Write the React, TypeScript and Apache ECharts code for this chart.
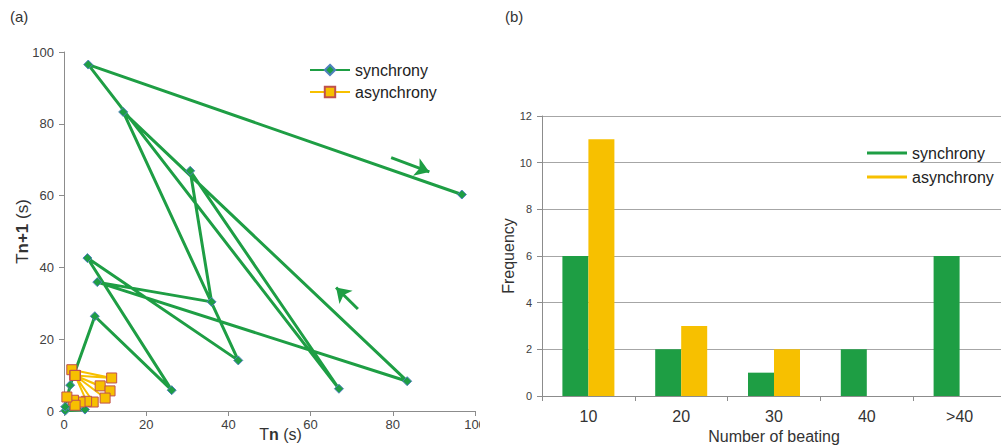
import React, { useEffect, useRef } from "react";
import * as echarts from "echarts";

const GREEN = "#1E9E44";
const YELLOW = "#F7C000";
const FONT = "'Liberation Sans', Arial, sans-serif";

// Panel (a): return map Tn vs Tn+1 (s)
const syncPoints: [number, number][] = [
  [0.3, 0.1], [5.1, 0.4], [0.3, 1.2], [1.5, 7.2], [7.5, 26.4], [26.2, 5.8],
  [5.7, 42.6], [42.4, 14.1], [14.4, 83.3], [83.5, 8.3], [8.1, 35.9],
  [35.9, 30.4], [30.7, 66.9], [66.9, 6.2], [5.9, 96.5], [96.8, 60.3],
];
const asyncPoints: [number, number][] = [
  [1.9, 11.5], [11.6, 9.2], [2.7, 9.9], [8.8, 7.0], [2.7, 9.9], [11.2, 5.6],
  [2.7, 9.9], [10.0, 3.6], [2.7, 9.9], [7.1, 2.5], [2.7, 9.9], [5.5, 2.7],
  [3.9, 2.5], [2.3, 3.0], [2.7, 1.6], [0.7, 3.9],
];
const arrow1: [number, number][] = [[79.6, 70.6], [88.9, 66.6]];
const arrow2: [number, number][] = [[71.5, 28.4], [66.2, 34.4]];
const axisTicksA = { min: 0, max: 100, interval: 20 };

// Panel (b): histogram
const beatCategories = ["10", "20", "30", "40", ">40"];
const syncFreq = [6, 2, 1, 2, 6];
const asyncFreq = [11, 3, 2, 0, 0];
const axisTicksB = { min: 0, max: 12, interval: 2 };

const axisColor = "#8C8C8C";
const labelColor = "#404040";

function optionA(): any {
  return {
    animation: false,
    textStyle: { fontFamily: FONT },
    graphic: [
      { type: "text", left: 10, top: 9, style: { text: "(a)", fontSize: 15, fill: "#333", fontFamily: FONT } },
    ],
    legend: {
      orient: "vertical",
      left: 304,
      top: 57,
      itemWidth: 40,
      itemHeight: 13,
      itemGap: 6,
      textStyle: { fontSize: 16, color: "#222", fontFamily: FONT },
      data: ["synchrony", "asynchrony"],
    },
    grid: { left: 64, top: 52, width: 411, height: 359, outerBoundsMode: "none", containLabel: false },
    xAxis: {
      type: "value",
      ...axisTicksA,
      name: "T{b|n} (s)",
      nameLocation: "middle",
      nameGap: 15,
      nameMoveOverlap: false,
      nameTextStyle: { fontSize: 16, color: "#333", fontFamily: FONT, padding: [0, 0, 0, 22], rich: { b: { fontSize: 16, fontWeight: "bold", color: "#333", fontFamily: FONT } } },
      axisLine: { show: true, lineStyle: { color: axisColor } },
      axisTick: { show: true, length: 5, lineStyle: { color: axisColor } },
      splitLine: { show: false },
      axisLabel: { fontSize: 13, color: labelColor, margin: 7, fontFamily: FONT },
    },
    yAxis: {
      type: "value",
      ...axisTicksA,
      name: "T{b|n+1} (s)",
      nameLocation: "middle",
      nameGap: 33,
      nameMoveOverlap: false,
      nameTextStyle: { fontSize: 17, color: "#333", fontFamily: FONT, rich: { b: { fontSize: 17, fontWeight: "bold", color: "#333", fontFamily: FONT } } },
      axisLine: { show: true, lineStyle: { color: axisColor } },
      axisTick: { show: true, length: 5, lineStyle: { color: axisColor } },
      splitLine: { show: false },
      axisLabel: { fontSize: 13, color: labelColor, margin: 10, fontFamily: FONT },
    },
    series: [
      {
        name: "synchrony",
        type: "line",
        data: syncPoints,
        symbol: "diamond",
        symbolSize: 9,
        itemStyle: { color: GREEN, borderColor: "#4F81BD", borderWidth: 1 },
        lineStyle: { color: GREEN, width: 3 },
        markLine: {
          silent: true,
          symbol: ["none", "arrow"],
          symbolSize: 14,
          label: { show: false },
          lineStyle: { color: GREEN, width: 3, type: "solid" },
          data: [
            [{ coord: arrow1[0] }, { coord: arrow1[1] }],
            [{ coord: arrow2[0] }, { coord: arrow2[1] }],
          ],
        },
      },
      {
        name: "asynchrony",
        type: "line",
        data: asyncPoints,
        symbol: "rect",
        symbolSize: 10,
        itemStyle: { color: YELLOW, borderColor: "#C0504D", borderWidth: 1 },
        lineStyle: { color: YELLOW, width: 2 },
      },
    ],
  };
}

function optionB(): any {
  return {
    animation: false,
    textStyle: { fontFamily: FONT },
    graphic: [
      { type: "text", left: 25, top: 9, style: { text: "(b)", fontSize: 15, fill: "#333", fontFamily: FONT } },
    ],
    legend: {
      orient: "vertical",
      left: 382,
      top: 140,
      itemWidth: 40,
      itemHeight: 3,
      itemGap: 8,
      icon: "rect",
      textStyle: { fontSize: 16, color: "#222", fontFamily: FONT },
      data: ["synchrony", "asynchrony"],
    },
    grid: { left: 62, top: 116, width: 464, height: 280, outerBoundsMode: "none", containLabel: false },
    xAxis: {
      type: "category",
      data: beatCategories,
      name: "Number of beating",
      nameLocation: "middle",
      nameGap: 32,
      nameMoveOverlap: false,
      nameTextStyle: { fontSize: 16, color: "#333", fontFamily: FONT },
      axisLine: { show: true, lineStyle: { color: axisColor } },
      axisTick: { show: true, length: 5, lineStyle: { color: axisColor } },
      axisLabel: { fontSize: 16, color: "#333", margin: 12, fontFamily: FONT },
    },
    yAxis: {
      type: "value",
      ...axisTicksB,
      name: "Frequency",
      nameLocation: "middle",
      nameGap: 26,
      nameMoveOverlap: false,
      nameTextStyle: { fontSize: 16, color: "#333", fontFamily: FONT },
      axisLine: { show: true, lineStyle: { color: axisColor } },
      axisTick: { show: true, length: 5, lineStyle: { color: axisColor } },
      splitLine: { show: true, lineStyle: { color: "#A6A6A6" } },
      axisLabel: { fontSize: 11, color: labelColor, margin: 10, fontFamily: FONT },
    },
    series: [
      { name: "synchrony", type: "bar", data: syncFreq, barWidth: 26, barGap: "0%", itemStyle: { color: GREEN } },
      { name: "asynchrony", type: "bar", data: asyncFreq, barWidth: 26, barGap: "0%", itemStyle: { color: YELLOW } },
    ],
  };
}

export default function App() {
  const refA = useRef<HTMLDivElement>(null);
  const refB = useRef<HTMLDivElement>(null);
  useEffect(() => {
    const a = echarts.init(refA.current!, undefined, { renderer: "svg" });
    const b = echarts.init(refB.current!, undefined, { renderer: "svg" });
    a.setOption(optionA());
    b.setOption(optionB());
    return () => {
      a.dispose();
      b.dispose();
    };
  }, []);
  return (
    <div style={{ position: "absolute", left: 0, top: 0, width: 1001, height: 448, background: "#fff", overflow: "hidden" }}>
      <div ref={refA} style={{ position: "absolute", left: 0, top: 0, width: 480, height: 448 }} />
      <div ref={refB} style={{ position: "absolute", left: 480, top: 0, width: 521, height: 448 }} />
    </div>
  );
}
